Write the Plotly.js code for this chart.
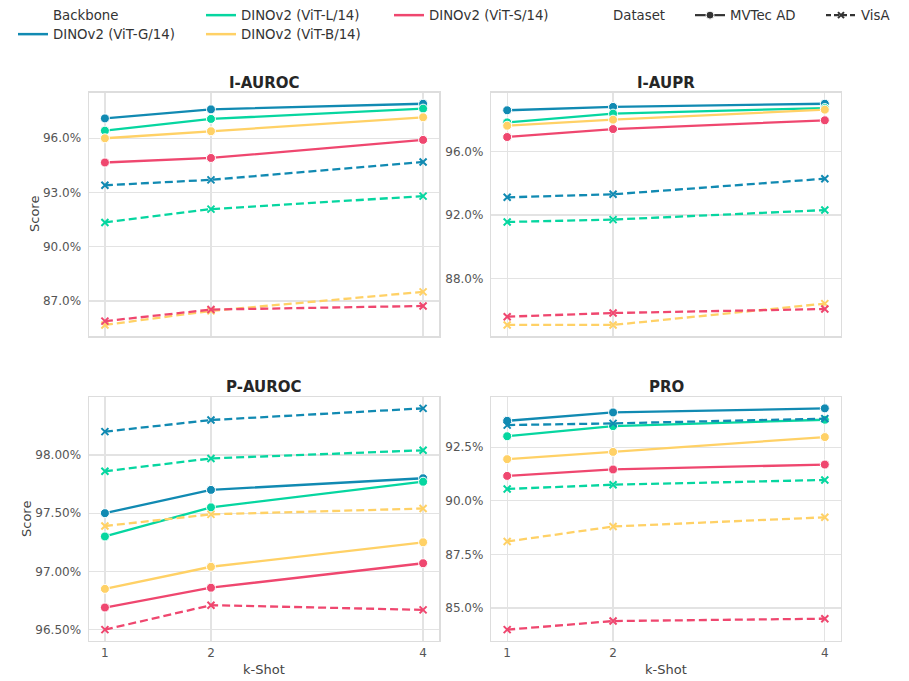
<!DOCTYPE html>
<html>
<head>
<meta charset="utf-8">
<script src="https://cdn.plot.ly/plotly-3.0.1.min.js"></script>
<style>
  html, body { margin: 0; padding: 0; background: #ffffff; }
  #chart { width: 909px; height: 681px; }
</style>
</head>
<body>
<div id="chart"></div>
<script>
// k-shot values on the x axis
const shots = [1, 2, 4];
const backbones = ['DINOv2 (ViT-G/14)', 'DINOv2 (ViT-L/14)', 'DINOv2 (ViT-B/14)', 'DINOv2 (ViT-S/14)'];
const datasets = ['MVTec AD', 'VisA'];
const metrics = ['I-AUROC', 'I-AUPR', 'P-AUROC', 'PRO'];

// rows follow the backbones order: G, L, B, S
const iAurocMvtec = [[97.10, 97.60, 97.91], [96.42, 97.07, 97.64], [96.00, 96.39, 97.16], [94.66, 94.91, 95.91]];
const iAurocVisa  = [[93.40, 93.70, 94.69], [91.34, 92.08, 92.80], [85.67, 86.45, 87.50], [85.88, 86.52, 86.72]];
const iAuprMvtec  = [[98.58, 98.79, 98.99], [97.82, 98.37, 98.72], [97.61, 97.99, 98.62], [96.90, 97.40, 97.95]];
const iAuprVisa   = [[93.11, 93.30, 94.28], [91.56, 91.71, 92.31], [85.09, 85.09, 86.43], [85.61, 85.84, 86.09]];
const pAurocMvtec = [[97.50, 97.70, 97.80], [97.30, 97.55, 97.77], [96.85, 97.04, 97.25], [96.69, 96.86, 97.07]];
const pAurocVisa  = [[98.20, 98.30, 98.40], [97.86, 97.97, 98.04], [97.39, 97.49, 97.54], [96.50, 96.71, 96.67]];
const proMvtec    = [[93.73, 94.12, 94.31], [93.01, 93.48, 93.78], [91.94, 92.28, 92.97], [91.16, 91.46, 91.69]];
const proVisa     = [[93.53, 93.61, 93.83], [90.55, 90.75, 90.97], [88.10, 88.80, 89.23], [83.99, 84.39, 84.50]];

const colors = ['#118ab2', '#06d6a0', '#ffd166', '#ef476f'];
const FONT = 'DejaVu Sans, Liberation Sans, sans-serif';
const W = 909, H = 681;

// panel boxes in pixels: [left, right, top, bottom]
const boxes = [[89, 439, 92.7, 336], [491.3, 840.7, 92.7, 336], [89, 439, 397.3, 640.7], [491.3, 840.7, 397.3, 640.7]];
const panelData = [[iAurocMvtec, iAurocVisa], [iAuprMvtec, iAuprVisa], [pAurocMvtec, pAurocVisa], [proMvtec, proVisa]];
const tickSteps = [3, 4, 0.5, 2.5];
const tickFormats = ['.1f', '.1f', '.2f', '.1f'];

function paddedRange(values, pad) {
    const lo = Math.min(...values), hi = Math.max(...values);
    const m = (hi - lo) * pad;
    return [lo - m, hi + m];
}

const traces = [];
const layout = {
    width: W,
    height: H,
    margin: { t: 0, r: 0, b: 0, l: 0 },
    paper_bgcolor: '#ffffff',
    plot_bgcolor: '#ffffff',
    font: { family: FONT, size: 12, color: '#333333' },
    annotations: [],
};

metrics.forEach((metric, p) => {
    const [l, r, t, b] = boxes[p];
    const n = p + 1;
    const xa = 'xaxis' + (p ? n : '');
    const ya = 'yaxis' + (p ? n : '');
    const all = panelData[p][0].flat().concat(panelData[p][1].flat());
    const bottomRow = p >= 2;

    layout[xa] = {
        domain: [l / W, r / W],
        anchor: 'y' + (p ? n : ''),
        range: [0.85, 4.15],
        tickvals: shots,
        ticktext: shots.map(String),
        showticklabels: bottomRow,
        tickfont: { size: 12, color: '#555555' },
        showgrid: true,
        gridcolor: '#e3e3e3',
        gridwidth: 1.2,
        zeroline: false,
        showline: true,
        linecolor: '#dddddd',
        linewidth: 1.5,
        mirror: true,
        ticks: '',
        automargin: false,
        fixedrange: true,
    };
    layout[ya] = {
        domain: [1 - b / H, 1 - t / H],
        anchor: 'x' + (p ? n : ''),
        range: paddedRange(all, 0.05),
        tick0: 0,
        dtick: tickSteps[p],
        tickformat: tickFormats[p],
        ticksuffix: '%',
        tickfont: { size: 12, color: '#555555' },
        showgrid: true,
        gridcolor: '#e3e3e3',
        gridwidth: 1.2,
        zeroline: false,
        showline: true,
        linecolor: '#dddddd',
        linewidth: 1.5,
        mirror: true,
        ticks: '',
        ticklabelstandoff: 4,
        automargin: false,
        fixedrange: true,
    };

    // subplot title
    layout.annotations.push({
        text: '<b>' + metric + '</b>',
        xref: 'paper', yref: 'paper',
        x: (l + r) / 2 / W, y: 1 - (t + 1) / H,
        xanchor: 'center', yanchor: 'bottom',
        showarrow: false,
        font: { size: 15, color: '#262626', family: FONT },
    });

    datasets.forEach((ds, d) => {
        backbones.forEach((bb, i) => {
            const visa = d === 1;
            traces.push({
                x: shots,
                y: panelData[p][d][i],
                xaxis: 'x' + (p ? n : ''),
                yaxis: 'y' + (p ? n : ''),
                type: 'scatter',
                mode: 'lines+markers',
                name: bb + ' / ' + ds,
                showlegend: false,
                line: { color: colors[i], width: 2.3, dash: visa ? '8px,4px' : 'solid' },
                marker: visa
                    ? { symbol: 'x-thin', size: 7, color: colors[i], line: { color: colors[i], width: 2 } }
                    : { symbol: 'circle', size: 9, color: colors[i], line: { color: '#ffffff', width: 1 } },
                hoverinfo: 'skip',
            });
        });
    });
});

// axis titles
const axisTitleFont = { size: 13, color: '#444444', family: FONT };
layout.annotations.push(
    { text: 'Score', textangle: -90, xref: 'paper', yref: 'paper', x: 34 / W, y: 1 - 214 / H,
      xanchor: 'center', yanchor: 'middle', showarrow: false, font: axisTitleFont },
    { text: 'Score', textangle: -90, xref: 'paper', yref: 'paper', x: 26 / W, y: 1 - 519 / H,
      xanchor: 'center', yanchor: 'middle', showarrow: false, font: axisTitleFont },
    { text: 'k-Shot', xref: 'paper', yref: 'paper', x: 264 / W, y: 1 - 669 / H,
      xanchor: 'center', yanchor: 'middle', showarrow: false, font: axisTitleFont },
    { text: 'k-Shot', xref: 'paper', yref: 'paper', x: 666 / W, y: 1 - 669 / H,
      xanchor: 'center', yanchor: 'middle', showarrow: false, font: axisTitleFont }
);

// legend-only entries, one small legend per cell like the matplotlib legend grid
function legendBox(xPx, yPx) {
    return {
        x: xPx / W, y: 1 - yPx / H,
        xanchor: 'left', yanchor: 'top',
        bgcolor: 'rgba(0,0,0,0)',
        borderwidth: 0,
        itemwidth: 30,
        tracegroupgap: 0,
        font: { size: 13.3, color: '#333333', family: FONT },
        itemclick: false, itemdoubleclick: false,
    };
}
const row1 = 0, row2 = 19;
layout.legend = legendBox(13, row1);
layout.legend2 = legendBox(13, row2);
layout.legend3 = legendBox(201, row1);
layout.legend4 = legendBox(201, row2);
layout.legend5 = legendBox(389, row1);
layout.legend6 = legendBox(573, row1);
layout.legend7 = legendBox(690, row1);
layout.legend8 = legendBox(821, row1);

function legendEntry(name, legend, line, marker) {
    return {
        x: [null], y: [null], type: 'scatter',
        mode: marker ? 'lines+markers' : 'lines',
        name: name, legend: legend, showlegend: true,
        line: line, marker: marker || {},
        hoverinfo: 'skip',
    };
}
const hidden = { color: 'rgba(0,0,0,0)', width: 2 };
traces.push(
    legendEntry('Backbone', 'legend', hidden),
    legendEntry(backbones[0], 'legend2', { color: colors[0], width: 2.5 }),
    legendEntry(backbones[1], 'legend3', { color: colors[1], width: 2.5 }),
    legendEntry(backbones[2], 'legend4', { color: colors[2], width: 2.5 }),
    legendEntry(backbones[3], 'legend5', { color: colors[3], width: 2.5 }),
    legendEntry('Dataset', 'legend6', hidden),
    legendEntry(datasets[0], 'legend7', { color: '#333333', width: 2.2 },
        { symbol: 'circle', size: 8, color: '#333333', line: { color: '#ffffff', width: 1 } }),
    legendEntry(datasets[1], 'legend8', { color: '#333333', width: 2.2, dash: '5px,3px' },
        { symbol: 'x-thin', size: 6, color: '#333333', line: { color: '#333333', width: 2 } })
);

document.addEventListener('DOMContentLoaded', function() {
    Plotly.newPlot('chart', traces, layout, { displayModeBar: false, staticPlot: true });
});
</script>
</body>
</html>
